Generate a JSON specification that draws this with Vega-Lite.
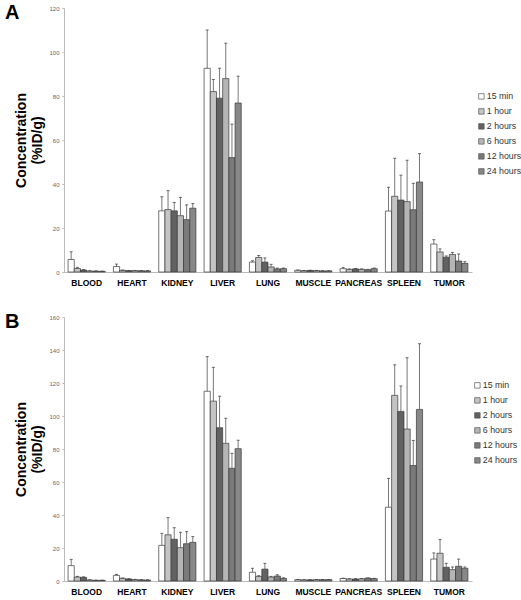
{
  "$schema": "https://vega.github.io/schema/vega-lite/v6.json",
  "padding": {"left": 4, "top": 3, "right": 0, "bottom": 0},
  "config": {
    "view": {"stroke": null},
    "font": "Liberation Sans",
    "legend": {"symbolType": "square", "symbolSize": 30, "symbolStrokeColor": "#555", "symbolStrokeWidth": 0.7, "labelFontSize": 8.8, "labelColor": "#333", "labelFont": "Liberation Sans", "rowPadding": 5, "labelOffset": 1, "titlePadding": 0},
    "axisY": {"labelOverlap": false, "grid": false, "labelFontSize": 6, "labelColor": "#666", "domainColor": "#bbb", "tickColor": "#bbb", "tickSize": 2, "labelPadding": 3, "titleFontSize": 14, "titleFontWeight": "bold", "titleColor": "black", "titleFont": "Liberation Sans", "titlePadding": 4, "titleLineHeight": 16}
  },
  "datasets": {
    "A": [
      {"organ": "BLOOD", "time": "15 min", "mean": 5.7, "upper": 9.2},
      {"organ": "BLOOD", "time": "1  hour", "mean": 1.6, "upper": 2.1},
      {"organ": "BLOOD", "time": "2 hours", "mean": 0.9, "upper": 1.1},
      {"organ": "BLOOD", "time": "6 hours", "mean": 0.45, "upper": 0.6},
      {"organ": "BLOOD", "time": "12 hours", "mean": 0.4, "upper": 0.5},
      {"organ": "BLOOD", "time": "24 hours", "mean": 0.3, "upper": 0.4},
      {"organ": "HEART", "time": "15 min", "mean": 2.5, "upper": 3.6},
      {"organ": "HEART", "time": "1  hour", "mean": 0.75, "upper": 0.9},
      {"organ": "HEART", "time": "2 hours", "mean": 0.6, "upper": 0.7},
      {"organ": "HEART", "time": "6 hours", "mean": 0.6, "upper": 0.7},
      {"organ": "HEART", "time": "12 hours", "mean": 0.55, "upper": 0.65},
      {"organ": "HEART", "time": "24 hours", "mean": 0.5, "upper": 0.6},
      {"organ": "KIDNEY", "time": "15 min", "mean": 27.8, "upper": 34.2},
      {"organ": "KIDNEY", "time": "1  hour", "mean": 28.4, "upper": 37},
      {"organ": "KIDNEY", "time": "2 hours", "mean": 27.8, "upper": 31.6},
      {"organ": "KIDNEY", "time": "6 hours", "mean": 25.6, "upper": 33.9},
      {"organ": "KIDNEY", "time": "12 hours", "mean": 23.8, "upper": 30.5},
      {"organ": "KIDNEY", "time": "24 hours", "mean": 29.0, "upper": 31.1},
      {"organ": "LIVER", "time": "15 min", "mean": 92.6, "upper": 110},
      {"organ": "LIVER", "time": "1  hour", "mean": 82, "upper": 87.5},
      {"organ": "LIVER", "time": "2 hours", "mean": 79, "upper": 92.6},
      {"organ": "LIVER", "time": "6 hours", "mean": 87.9, "upper": 104},
      {"organ": "LIVER", "time": "12 hours", "mean": 52, "upper": 67.2},
      {"organ": "LIVER", "time": "24 hours", "mean": 76.8, "upper": 89},
      {"organ": "LUNG", "time": "15 min", "mean": 4.5, "upper": 5.1},
      {"organ": "LUNG", "time": "1  hour", "mean": 6.6, "upper": 7.5},
      {"organ": "LUNG", "time": "2 hours", "mean": 4.5, "upper": 6.4},
      {"organ": "LUNG", "time": "6 hours", "mean": 2.3, "upper": 3.5},
      {"organ": "LUNG", "time": "12 hours", "mean": 1.4, "upper": 1.8},
      {"organ": "LUNG", "time": "24 hours", "mean": 1.5, "upper": 1.8},
      {"organ": "MUSCLE", "time": "15 min", "mean": 0.8, "upper": 0.9},
      {"organ": "MUSCLE", "time": "1  hour", "mean": 0.6, "upper": 0.7},
      {"organ": "MUSCLE", "time": "2 hours", "mean": 0.7, "upper": 0.8},
      {"organ": "MUSCLE", "time": "6 hours", "mean": 0.6, "upper": 0.7},
      {"organ": "MUSCLE", "time": "12 hours", "mean": 0.5, "upper": 0.6},
      {"organ": "MUSCLE", "time": "24 hours", "mean": 0.5, "upper": 0.6},
      {"organ": "PANCREAS", "time": "15 min", "mean": 1.5, "upper": 2.1},
      {"organ": "PANCREAS", "time": "1  hour", "mean": 1.2, "upper": 1.4},
      {"organ": "PANCREAS", "time": "2 hours", "mean": 1.4, "upper": 1.6},
      {"organ": "PANCREAS", "time": "6 hours", "mean": 1.2, "upper": 1.4},
      {"organ": "PANCREAS", "time": "12 hours", "mean": 1.0, "upper": 1.2},
      {"organ": "PANCREAS", "time": "24 hours", "mean": 1.5, "upper": 1.8},
      {"organ": "SPLEEN", "time": "15 min", "mean": 27.7, "upper": 38.5},
      {"organ": "SPLEEN", "time": "1  hour", "mean": 34.4, "upper": 51.7},
      {"organ": "SPLEEN", "time": "2 hours", "mean": 32.7, "upper": 44},
      {"organ": "SPLEEN", "time": "6 hours", "mean": 32, "upper": 50.8},
      {"organ": "SPLEEN", "time": "12 hours", "mean": 28.3, "upper": 40.3},
      {"organ": "SPLEEN", "time": "24 hours", "mean": 40.9, "upper": 53.8},
      {"organ": "TUMOR", "time": "15 min", "mean": 12.7, "upper": 14.7},
      {"organ": "TUMOR", "time": "1  hour", "mean": 9.1, "upper": 10.5},
      {"organ": "TUMOR", "time": "2 hours", "mean": 6.7, "upper": 7.3},
      {"organ": "TUMOR", "time": "6 hours", "mean": 8.0, "upper": 8.9},
      {"organ": "TUMOR", "time": "12 hours", "mean": 5.0, "upper": 8.2},
      {"organ": "TUMOR", "time": "24 hours", "mean": 3.9, "upper": 4.7}
    ],
    "B": [
      {"organ": "BLOOD", "time": "15 min", "mean": 9.3, "upper": 13.1},
      {"organ": "BLOOD", "time": "1  hour", "mean": 2.4, "upper": 2.8},
      {"organ": "BLOOD", "time": "2 hours", "mean": 2.2, "upper": 2.5},
      {"organ": "BLOOD", "time": "6 hours", "mean": 0.6, "upper": 0.8},
      {"organ": "BLOOD", "time": "12 hours", "mean": 0.4, "upper": 0.5},
      {"organ": "BLOOD", "time": "24 hours", "mean": 0.4, "upper": 0.5},
      {"organ": "HEART", "time": "15 min", "mean": 3.4, "upper": 4.0},
      {"organ": "HEART", "time": "1  hour", "mean": 1.6, "upper": 1.8},
      {"organ": "HEART", "time": "2 hours", "mean": 1.2, "upper": 1.4},
      {"organ": "HEART", "time": "6 hours", "mean": 0.8, "upper": 1.0},
      {"organ": "HEART", "time": "12 hours", "mean": 0.7, "upper": 0.8},
      {"organ": "HEART", "time": "24 hours", "mean": 0.6, "upper": 0.7},
      {"organ": "KIDNEY", "time": "15 min", "mean": 21.6, "upper": 28.9},
      {"organ": "KIDNEY", "time": "1  hour", "mean": 28, "upper": 38.4},
      {"organ": "KIDNEY", "time": "2 hours", "mean": 25.3, "upper": 32.3},
      {"organ": "KIDNEY", "time": "6 hours", "mean": 20.2, "upper": 29.5},
      {"organ": "KIDNEY", "time": "12 hours", "mean": 22.6, "upper": 29.9},
      {"organ": "KIDNEY", "time": "24 hours", "mean": 23.4, "upper": 26.9},
      {"organ": "LIVER", "time": "15 min", "mean": 115, "upper": 136},
      {"organ": "LIVER", "time": "1  hour", "mean": 109, "upper": 129.5},
      {"organ": "LIVER", "time": "2 hours", "mean": 92.9, "upper": 112},
      {"organ": "LIVER", "time": "6 hours", "mean": 83.4, "upper": 98.6},
      {"organ": "LIVER", "time": "12 hours", "mean": 68.3, "upper": 77.4},
      {"organ": "LIVER", "time": "24 hours", "mean": 80.2, "upper": 85.3},
      {"organ": "LUNG", "time": "15 min", "mean": 5.3, "upper": 7.7},
      {"organ": "LUNG", "time": "1  hour", "mean": 2.8, "upper": 3.2},
      {"organ": "LUNG", "time": "2 hours", "mean": 7.2, "upper": 10.7},
      {"organ": "LUNG", "time": "6 hours", "mean": 2.4, "upper": 2.8},
      {"organ": "LUNG", "time": "12 hours", "mean": 3.0, "upper": 3.8},
      {"organ": "LUNG", "time": "24 hours", "mean": 1.6, "upper": 1.9},
      {"organ": "MUSCLE", "time": "15 min", "mean": 0.8, "upper": 0.9},
      {"organ": "MUSCLE", "time": "1  hour", "mean": 0.7, "upper": 0.8},
      {"organ": "MUSCLE", "time": "2 hours", "mean": 0.7, "upper": 0.8},
      {"organ": "MUSCLE", "time": "6 hours", "mean": 0.8, "upper": 0.9},
      {"organ": "MUSCLE", "time": "12 hours", "mean": 0.8, "upper": 0.9},
      {"organ": "MUSCLE", "time": "24 hours", "mean": 0.8, "upper": 0.9},
      {"organ": "PANCREAS", "time": "15 min", "mean": 1.5, "upper": 1.7},
      {"organ": "PANCREAS", "time": "1  hour", "mean": 1.2, "upper": 1.4},
      {"organ": "PANCREAS", "time": "2 hours", "mean": 1.2, "upper": 1.4},
      {"organ": "PANCREAS", "time": "6 hours", "mean": 1.3, "upper": 1.5},
      {"organ": "PANCREAS", "time": "12 hours", "mean": 1.7, "upper": 1.9},
      {"organ": "PANCREAS", "time": "24 hours", "mean": 1.4, "upper": 1.6},
      {"organ": "SPLEEN", "time": "15 min", "mean": 44.7, "upper": 62.2},
      {"organ": "SPLEEN", "time": "1  hour", "mean": 112.5, "upper": 131},
      {"organ": "SPLEEN", "time": "2 hours", "mean": 102.8, "upper": 118.2},
      {"organ": "SPLEEN", "time": "6 hours", "mean": 92.1, "upper": 135.3},
      {"organ": "SPLEEN", "time": "12 hours", "mean": 70, "upper": 85.2},
      {"organ": "SPLEEN", "time": "24 hours", "mean": 104, "upper": 143.8},
      {"organ": "TUMOR", "time": "15 min", "mean": 13.3, "upper": 17},
      {"organ": "TUMOR", "time": "1  hour", "mean": 16.8, "upper": 25.2},
      {"organ": "TUMOR", "time": "2 hours", "mean": 8.3, "upper": 10.7},
      {"organ": "TUMOR", "time": "6 hours", "mean": 6.9, "upper": 8.5},
      {"organ": "TUMOR", "time": "12 hours", "mean": 8.9, "upper": 13.3},
      {"organ": "TUMOR", "time": "24 hours", "mean": 7.7, "upper": 8.5}
    ]
  },
  "resolve": {"scale": {"color": "independent", "y": "independent"}, "legend": {"color": "independent"}},
  "spacing": 25,
  "vconcat": [
    {
      "width": 408,
      "height": 264,
      "data": {"name": "A"},
      "title": {"text": "A", "anchor": "start", "frame": "bounds", "fontSize": 20, "fontWeight": "bold", "font": "Liberation Sans", "color": "black", "baseline": "top", "offset": -18, "dx": -10},
      "encoding": {
        "x": {"field": "organ", "type": "nominal", "sort": ["BLOOD", "HEART", "KIDNEY", "LIVER", "LUNG", "MUSCLE", "PANCREAS", "SPLEEN", "TUMOR"], "scale": {"paddingInner": 0.18, "paddingOuter": 0.09}, "title": null,
          "axis": {"labelAngle": 0, "labelFontWeight": "bold", "labelFontSize": 8.5, "labelColor": "black", "labelFont": "Liberation Sans", "domainColor": "#bbb", "ticks": false, "labelPadding": 6, "labelOverlap": false}},
        "xOffset": {"field": "time", "type": "nominal", "sort": ["15 min", "1  hour", "2 hours", "6 hours", "12 hours", "24 hours"], "scale": {"paddingInner": 0, "paddingOuter": 0}}
      },
      "layer": [
        {
          "mark": {"type": "bar", "stroke": "#3a3a3a", "strokeWidth": 0.7},
          "encoding": {
            "y": {"field": "mean", "type": "quantitative", "scale": {"domain": [0, 120], "nice": false},
              "axis": {"values": [0, 20, 40, 60, 80, 100, 120], "title": ["Concentration", "(%ID/g)"]}},
            "color": {"field": "time", "type": "nominal", "sort": ["15 min", "1  hour", "2 hours", "6 hours", "12 hours", "24 hours"],
              "scale": {"domain": ["15 min", "1  hour", "2 hours", "6 hours", "12 hours", "24 hours"], "range": ["#ffffff", "#c4c4c4", "#626262", "#b5b5b5", "#7a7a7a", "#888888"]},
              "legend": {"title": null, "orient": "none", "legendX": 413, "legendY": 84}}
          }
        },
        {
          "mark": {"type": "rule", "color": "#555", "strokeWidth": 0.8},
          "encoding": {"y": {"field": "mean", "type": "quantitative", "axis": {"values": [0, 20, 40, 60, 80, 100, 120], "title": ["Concentration", "(%ID/g)"]}}, "y2": {"field": "upper"}}
        },
        {
          "mark": {"type": "tick", "color": "#333", "size": 3, "thickness": 1},
          "encoding": {"y": {"field": "upper", "type": "quantitative", "axis": {"values": [0, 20, 40, 60, 80, 100, 120], "title": ["Concentration", "(%ID/g)"]}}}
        }
      ]
    },
    {
      "width": 408,
      "height": 264,
      "data": {"name": "B"},
      "title": {"text": "B", "anchor": "start", "frame": "bounds", "fontSize": 20, "fontWeight": "bold", "font": "Liberation Sans", "color": "black", "baseline": "top", "offset": -18, "dx": -10},
      "encoding": {
        "x": {"field": "organ", "type": "nominal", "sort": ["BLOOD", "HEART", "KIDNEY", "LIVER", "LUNG", "MUSCLE", "PANCREAS", "SPLEEN", "TUMOR"], "scale": {"paddingInner": 0.18, "paddingOuter": 0.09}, "title": null,
          "axis": {"labelAngle": 0, "labelFontWeight": "bold", "labelFontSize": 8.5, "labelColor": "black", "labelFont": "Liberation Sans", "domainColor": "#bbb", "ticks": false, "labelPadding": 6, "labelOverlap": false}},
        "xOffset": {"field": "time", "type": "nominal", "sort": ["15 min", "1  hour", "2 hours", "6 hours", "12 hours", "24 hours"], "scale": {"paddingInner": 0, "paddingOuter": 0}}
      },
      "layer": [
        {
          "mark": {"type": "bar", "stroke": "#3a3a3a", "strokeWidth": 0.7},
          "encoding": {
            "y": {"field": "mean", "type": "quantitative", "scale": {"domain": [0, 160], "nice": false},
              "axis": {"values": [0, 20, 40, 60, 80, 100, 120, 140, 160], "title": ["Concentration", "(%ID/g)"]}},
            "color": {"field": "time", "type": "nominal", "sort": ["15 min", "1  hour", "2 hours", "6 hours", "12 hours", "24 hours"],
              "scale": {"domain": ["15 min", "1  hour", "2 hours", "6 hours", "12 hours", "24 hours"], "range": ["#ffffff", "#c4c4c4", "#626262", "#b5b5b5", "#7a7a7a", "#888888"]},
              "legend": {"title": null, "orient": "none", "legendX": 409, "legendY": 64}}
          }
        },
        {
          "mark": {"type": "rule", "color": "#555", "strokeWidth": 0.8},
          "encoding": {"y": {"field": "mean", "type": "quantitative", "axis": {"values": [0, 20, 40, 60, 80, 100, 120, 140, 160], "title": ["Concentration", "(%ID/g)"]}}, "y2": {"field": "upper"}}
        },
        {
          "mark": {"type": "tick", "color": "#333", "size": 3, "thickness": 1},
          "encoding": {"y": {"field": "upper", "type": "quantitative", "axis": {"values": [0, 20, 40, 60, 80, 100, 120, 140, 160], "title": ["Concentration", "(%ID/g)"]}}}
        }
      ]
    }
  ]
}
